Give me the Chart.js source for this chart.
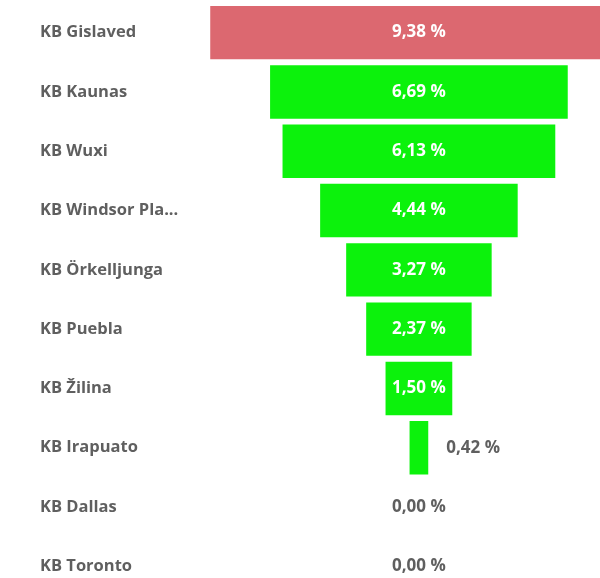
<!DOCTYPE html>
<html lang="en">

<head>
    <meta charset="utf-8">
    <script src="https://cdn.jsdelivr.net/npm/chart.js@4"></script>
    <title> Funnel </title>
    <style>
        html, body { margin: 0; padding: 0; background: #fff; overflow: hidden; }
        #frame { width: 600px; height: 578px; overflow: hidden; }
        #box { width: 600px; height: 596px; position: relative; }
    </style>
</head>

<body>
    <div id="frame">
        <div id="box"><canvas id="funnel"></canvas></div>
    </div>

    <script>
        const plants = ["KB Gislaved", "KB Kaunas", "KB Wuxi", "KB Windsor Pla...", "KB Örkelljunga",
            "KB Puebla", "KB Žilina", "KB Irapuato", "KB Dallas", "KB Toronto"];
        const shares = [9.38, 6.69, 6.13, 4.44, 3.27, 2.37, 1.50, 0.42, 0.00, 0.00];
        const barColors = ["#dc6870", "#0cf20c", "#0cf20c", "#0cf20c", "#0cf20c",
            "#0cf20c", "#0cf20c", "#0cf20c", "#0cf20c", "#0cf20c"];

        const fontFamily = "'Open Sans', sans-serif";

        function fmt(v) {
            return v.toFixed(2).replace(".", ",") + " %";
        }

        // value labels: white inside the bar, grey beside it when it does not fit
        const valueLabels = {
            id: "valueLabels",
            afterDatasetsDraw(chart) {
                const ctx = chart.ctx;
                const meta = chart.getDatasetMeta(0);
                ctx.save();
                ctx.font = "bold 17px " + fontFamily;
                ctx.textBaseline = "middle";
                meta.data.forEach((bar, i) => {
                    const txt = fmt(shares[i]);
                    const w = ctx.measureText(txt).width;
                    const left = Math.min(bar.x, bar.base);
                    const right = Math.max(bar.x, bar.base);
                    const cx = chart.scales.x.getPixelForValue(0);
                    if (shares[i] === 0) {
                        ctx.fillStyle = "#5f5f5f";
                        ctx.textAlign = "center";
                        ctx.fillText(txt, cx, bar.y);
                    } else if (right - left > w + 8) {
                        ctx.fillStyle = "#ffffff";
                        ctx.textAlign = "center";
                        ctx.fillText(txt, cx, bar.y);
                    } else {
                        ctx.fillStyle = "#5f5f5f";
                        ctx.textAlign = "left";
                        ctx.fillText(txt, right + 18, bar.y);
                    }
                });
                ctx.restore();
            }
        };

        const ctx = document.getElementById("funnel").getContext("2d");

        new Chart(ctx, {
            type: "bar",
            data: {
                labels: plants,
                datasets: [{
                    data: shares.map(v => [-v / 2, v / 2]),
                    backgroundColor: barColors,
                    borderWidth: 0,
                    barPercentage: 0.9,
                    categoryPercentage: 1
                }]
            },
            options: {
                indexAxis: "y",
                responsive: true,
                maintainAspectRatio: false,
                animation: false,
                layout: { padding: { left: 40, top: 3, right: 0, bottom: 0 } },
                plugins: {
                    legend: { display: false },
                    tooltip: { enabled: false }
                },
                scales: {
                    x: {
                        display: false,
                        min: -4.92,
                        max: 4.07
                    },
                    y: {
                        grid: { display: false },
                        border: { display: false },
                        afterFit(scale) {
                            scale.width = 160;
                            scale.paddingTop = 0;
                            scale.paddingBottom = 0;
                        },
                        ticks: {
                            crossAlign: "far",
                            color: "#5f5f5f",
                            font: { family: fontFamily, size: 16.5, weight: "bold" }
                        }
                    }
                }
            },
            plugins: [valueLabels]
        });
    </script>
</body>

</html>
